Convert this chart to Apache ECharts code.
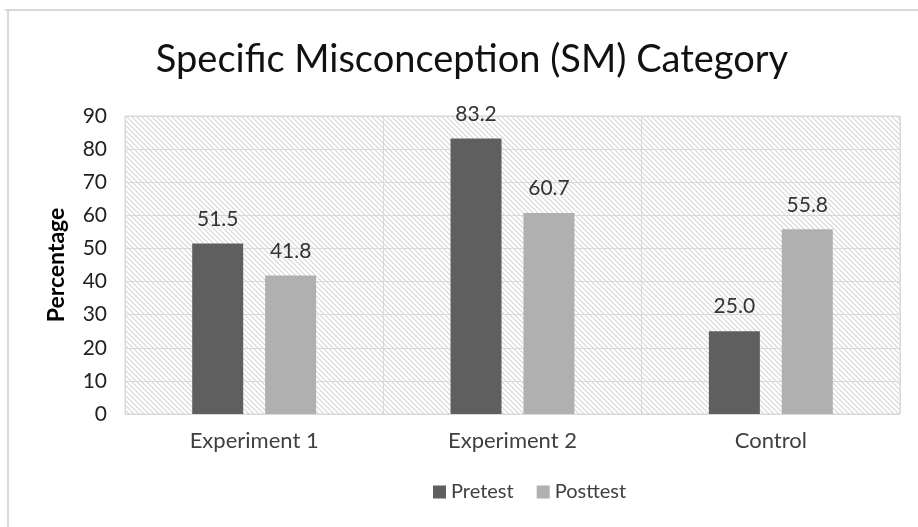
<!DOCTYPE html>
<html><head><meta charset="utf-8">
<script src="https://cdn.jsdelivr.net/npm/echarts@6/dist/echarts.min.js"></script>
<style>html,body{margin:0;padding:0;background:#fff}#c{width:918px;height:527px}</style>
</head><body><div id="c"></div>
<script>
const categories = ['Experiment 1', 'Experiment 2', 'Control'];
const pretest = [51.5, 83.2, 25.0];
const posttest = [41.8, 60.7, 55.8];
const yTicks = [0, 10, 20, 30, 40, 50, 60, 70, 80, 90];

function hatch() {
  const c = document.createElement('canvas');
  c.width = 5; c.height = 5;
  const g = c.getContext('2d');
  g.fillStyle = '#ffffff'; g.fillRect(0, 0, 5, 5);
  g.strokeStyle = '#d6d6d6'; g.lineWidth = 1.1;
  g.beginPath();
  g.moveTo(-1, -1); g.lineTo(6, 6);
  g.moveTo(-6, -1); g.lineTo(1, 6);
  g.moveTo(4, -1); g.lineTo(11, 6);
  g.stroke();
  return c;
}

const chart = echarts.init(document.getElementById('c'), null, {renderer: 'canvas'});
const font = 'Lato, "Open Sans", sans-serif';
const labelStyle = {show: true, position: 'top', distance: 14, fontFamily: font, fontSize: 21, color: '#333',
  formatter: p => p.value.toFixed(1)};
chart.setOption({
  animation: false,
  backgroundColor: '#fff',
  title: {
    text: 'Specific Misconception (SM) Category',
    left: 467, top: 36, textAlign: 'center',
    textStyle: {fontFamily: font, fontSize: 38, fontWeight: 'normal', color: '#111'}
  },
  legend: {
    data: ['Pretest', 'Posttest'],
    left: 428, top: 477,
    itemWidth: 13, itemHeight: 13, itemGap: 23,
    icon: 'rect',
    textStyle: {fontFamily: font, fontSize: 20, color: '#404040'}
  },
  grid: {
    left: 125, right: 18, top: 116, bottom: 113,
    show: true,
    backgroundColor: {image: hatch(), repeat: 'repeat'},
    borderColor: '#d9d9d9', borderWidth: 1
  },
  xAxis: {
    type: 'category', data: categories,
    axisLine: {show: false}, axisTick: {show: false},
    splitLine: {show: true, lineStyle: {color: '#d9d9d9', width: 1}},
    axisLabel: {fontFamily: font, fontSize: 22, color: '#404040', margin: 16}
  },
  yAxis: {
    type: 'value', min: 0, max: 90, interval: 10,
    name: 'Percentage', nameLocation: 'middle', nameGap: 57,
    nameTextStyle: {fontFamily: font, fontSize: 23, fontWeight: 'bold', color: '#000'},
    axisLine: {show: false}, axisTick: {show: false},
    splitLine: {lineStyle: {color: '#d9d9d9', width: 1}},
    axisLabel: {fontFamily: font, fontSize: 21, color: '#222', margin: 18,
      formatter: v => yTicks.includes(v) ? String(v) : ''}
  },
  series: [
    {name: 'Pretest', type: 'bar', data: pretest, barWidth: 51, barGap: '43%',
     itemStyle: {color: '#5f5f5f'}, label: labelStyle},
    {name: 'Posttest', type: 'bar', data: posttest, barWidth: 51,
     itemStyle: {color: '#b0b0b0'}, label: labelStyle}
  ],
  graphic: [
    {type: 'line', shape: {x1: 5, y1: 10, x2: 918, y2: 10}, style: {stroke: '#d9d9d9', lineWidth: 2}},
    {type: 'line', shape: {x1: 8, y1: 10, x2: 8, y2: 527}, style: {stroke: '#d9d9d9', lineWidth: 2}}
  ]
});
</script></body></html>
